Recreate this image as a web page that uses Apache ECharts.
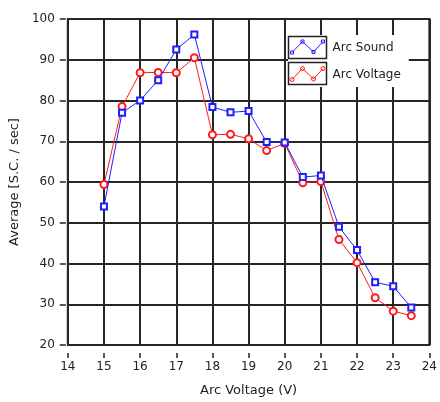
<!DOCTYPE html>
<html>
<head>
<meta charset="utf-8">
<script src="https://cdn.jsdelivr.net/npm/echarts@6/dist/echarts.min.js"></script>
<style>
html,body{margin:0;padding:0;background:#fff;}
#chart{width:440px;height:402px;}
</style>
</head>
<body>
<div id="chart"></div>
<script>
const arcVoltageX = [15, 15.5, 16, 16.5, 17, 17.5, 18, 18.5, 19, 19.5, 20, 20.5, 21, 21.5, 22, 22.5, 23, 23.5];
const arcSound = [54, 77, 80, 85, 92.5, 96.2, 78.4, 77.1, 77.4, 69.8, 69.7, 61.2, 61.6, 49, 43.3, 35.4, 34.4, 29.2];
const arcVoltage = [59.4, 78.5, 86.8, 86.9, 86.8, 90.5, 71.6, 71.7, 70.6, 67.7, 69.5, 59.8, 60.1, 45.9, 40.2, 31.6, 28.3, 27.2];
const xTicks = [14, 15, 16, 17, 18, 19, 20, 21, 22, 23, 24];
const yTicks = [20, 30, 40, 50, 60, 70, 80, 90, 100];
const seriesNames = ['Arc Sound', 'Arc Voltage'];

const FONT = 'DejaVu Sans';
const GRIDC = '#262626';
const BLUE = '#1f1fff';
const RED = '#ff1a1a';

const blueIcon = 'path://M0,0M38,22M3.5,16L14,5L25,15.5L34.5,5' +
  'M2,14.5h3v3h-3zM12.5,3.5h3v3h-3zM23.5,14h3v3h-3zM33,3.5h3v3h-3z';
const redIcon = 'path://M0,0M38,22M3.5,16L14,5L25,15.5L34.5,5' +
  'M5.5,16a2,2 0 1,0 -4,0a2,2 0 1,0 4,0M16,5a2,2 0 1,0 -4,0a2,2 0 1,0 4,0' +
  'M27,15.5a2,2 0 1,0 -4,0a2,2 0 1,0 4,0M36.5,5a2,2 0 1,0 -4,0a2,2 0 1,0 4,0';

const chart = echarts.init(document.getElementById('chart'), null, {renderer: 'canvas'});
chart.setOption({
  animation: false,
  backgroundColor: '#ffffff',
  grid: {left: 66, right: 6, top: 19, bottom: 55, show: true, borderColor: GRIDC, borderWidth: 2, backgroundColor: 'transparent'},
  xAxis: {
    type: 'value', min: xTicks[0], max: xTicks[xTicks.length - 1], interval: 1,
    offset: 8,
    name: 'Arc Voltage (V)', nameLocation: 'middle', nameGap: 31,
    nameTextStyle: {fontFamily: FONT, fontSize: 13, color: '#222'},
    axisLine: {show: false},
    axisTick: {show: true, length: 5, lineStyle: {color: '#222', width: 1.5}},
    axisLabel: {fontFamily: FONT, fontSize: 12, color: '#222', margin: 8},
    splitLine: {show: true, lineStyle: {color: GRIDC, width: 2}}
  },
  yAxis: {
    type: 'value', min: yTicks[0], max: yTicks[yTicks.length - 1], interval: 10,
    offset: 2,
    name: 'Average [S.C. / sec]', nameLocation: 'middle', nameGap: 40,
    nameTextStyle: {fontFamily: FONT, fontSize: 13, color: '#222'},
    axisLine: {show: false},
    axisTick: {show: true, length: 6, lineStyle: {color: '#222', width: 1.5}},
    axisLabel: {fontFamily: FONT, fontSize: 12, color: '#222', margin: 11},
    splitLine: {show: true, lineStyle: {color: GRIDC, width: 2}}
  },
  legend: {
    orient: 'vertical', left: 288, top: 35, padding: [1, 8, 1, 0],
    backgroundColor: '#ffffff',
    itemWidth: 38, itemHeight: 22, itemGap: 4, symbolKeepAspect: false,
    textStyle: {fontFamily: FONT, fontSize: 12, color: '#222', padding: [0, 0, 0, 1]},
    data: [
      {name: seriesNames[0], icon: blueIcon, itemStyle: {color: 'rgba(0,0,0,0)', borderColor: BLUE, borderWidth: 1}},
      {name: seriesNames[1], icon: redIcon, itemStyle: {color: 'rgba(0,0,0,0)', borderColor: RED, borderWidth: 1}}
    ]
  },
  graphic: [
    {type: 'rect', z: 100, shape: {x: 288.5, y: 36.5, width: 38, height: 22}, style: {fill: 'none', stroke: '#222', lineWidth: 1.5}},
    {type: 'rect', z: 100, shape: {x: 288.5, y: 62.5, width: 38, height: 22}, style: {fill: 'none', stroke: '#222', lineWidth: 1.5}}
  ],
  series: [
    {
      name: seriesNames[0], type: 'line',
      data: arcVoltageX.map((x, i) => [x, arcSound[i]]),
      symbol: 'emptyRect', symbolSize: 6,
      lineStyle: {color: BLUE, width: 1},
      itemStyle: {color: BLUE, borderWidth: 1},
      z: 3
    },
    {
      name: seriesNames[1], type: 'line',
      data: arcVoltageX.map((x, i) => [x, arcVoltage[i]]),
      symbol: 'emptyCircle', symbolSize: 7,
      lineStyle: {color: RED, width: 1},
      itemStyle: {color: RED, borderWidth: 1},
      z: 2
    }
  ]
});
</script>
</body>
</html>
